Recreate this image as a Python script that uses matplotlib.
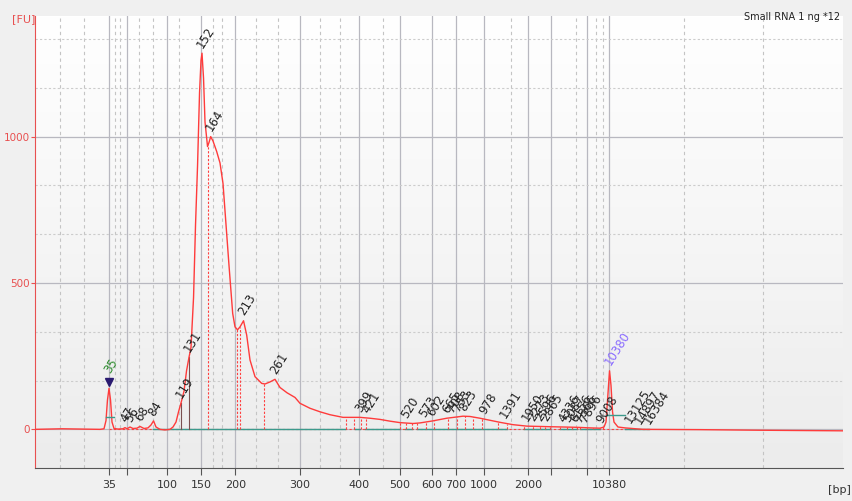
import numpy as np
import matplotlib.pyplot as plt

# migration time axis (s); ladder peaks give the bp tick labels
ladder_bp = [35, 50, 100, 150, 200, 300, 400, 500, 600, 700, 1000, 2000, 3000, 7000, 10380]
ladder_t = [43.0, 45.3, 50.58, 54.96, 59.42, 67.83, 75.5, 80.83, 84.99, 88.07, 91.75, 97.47, 100.42, 105.18, 108.04]
ladder_shown = [35, 100, 150, 200, 300, 400, 500, 600, 700, 1000, 2000, 10380]

# minor (dashed) time gridlines
minor_t = [36.64, 39.76, 43.75, 44.4, 46.91, 48.73, 52.11, 56.53, 57.75, 62.17, 64.98,
           70.49, 73.09, 78.63, 95.26, 103.71, 106.31, 107.18, 117.79, 127.98]

# electropherogram trace
trace_t = [33.38, 36.89, 41.83, 42.35, 42.61, 42.8, 43.0, 43.2, 43.39, 43.65, 44.17, 44.82,
           45.08, 45.34, 45.73, 46.12, 46.64, 47.03, 47.55, 48.07, 48.46, 48.79, 49.11, 49.63,
           50.28, 50.93, 51.32, 51.71, 52.04, 52.36, 52.75, 53.08, 53.4, 53.66, 53.99, 54.25,
           54.51, 54.77, 54.96, 55.09, 55.29, 55.48, 55.81, 56.0, 56.22, 56.52, 57.0, 57.43,
           57.82, 58.21, 58.6, 59.08, 59.38, 59.71, 60.03, 60.49, 60.9, 61.33, 61.98, 62.85,
           63.28, 63.93, 64.58, 65.23, 66.14, 67.18, 67.83, 69.13, 70.43, 71.73, 73.42, 75.63,
           76.93, 78.23, 79.53, 80.83, 82.52, 83.43, 85.12, 86.9, 89.02, 89.93, 91.23, 92.53,
           93.83, 95.52, 97.34, 100.33, 103.84, 105.53, 106.83, 107.35, 107.61, 107.81, 108.07,
           108.26, 108.46, 108.65, 109.17, 110.08, 112.42, 119.83, 127.63, 138.42]
trace_fu = [0, 2, 0, 2, 30, 100, 140, 100, 25, 3, 1, 2,
            6, 2, 8, 3, 4, 10, 3, 5, 15, 29, 8, 0,
            -2, 0, 8, 25, 60, 90, 130, 200, 246, 280, 450, 700,
            900, 1150, 1260, 1285, 1200, 1050, 966, 980, 1000, 985, 949, 910,
            840, 700, 560, 396, 350, 340, 350, 371, 322, 237, 180, 157,
            155, 162, 171, 143, 125, 109, 89, 72, 60, 50, 41, 41,
            38, 34, 28, 23, 20, 22, 29, 38, 45, 44, 38, 31,
            24, 16, 11, 9, 7, 5, 4, 8, 25, 100, 200,
            150, 60, 25, 8, 5, 0, -1, -3, -5]

# called peaks
peak_lbl = ['35', '47', '56', '68', '84', '119', '131', '152', '164', '213', '261',
            '399', '421', '520', '573', '602', '665', '708', '753', '823', '978', '1391',
            '1950', '2273', '2596', '2865', '4336', '5087', '6156', '7366', '7896', '9008',
            '10380', '13125', '14897', '16384']
peak_t = [43.0, 45.08, 45.73, 47.03, 48.79, 52.36, 53.4, 55.09, 56.22, 60.49, 64.58,
          75.63, 76.54, 81.61, 83.95, 84.99, 86.94, 87.59, 88.37, 89.15, 91.75, 94.48,
          97.34, 98.12, 99.03, 99.81, 102.02, 102.67, 103.58, 104.23, 104.88, 106.96,
          108.07, 110.73, 112.03, 113.2]

# peak boundaries (dashed red) and integration baseline segments
bound_t = [55.9, 59.67, 60.03, 63.19, 73.77, 74.85, 75.72, 76.37, 80.83, 81.57, 82.35, 83.08,
           84.17, 85.29, 87.11, 88.2, 89.28, 90.36, 91.45, 93.61, 94.7, 96.95, 98.12, 99.03,
           99.68, 100.33, 101.63, 102.5, 103.15, 103.8, 104.23, 105.1, 105.92, 106.83, 107.26]
base_seg = [(48.7, 73.7), (75.0, 75.6), (76.3, 80.8), (81.5, 82.4), (83.0, 94.7),
            (97.0, 100.3), (101.6, 103.8), (104.2, 106.8), (110.1, 113.2)]

fig = plt.figure(figsize=(8.53, 5.01), dpi=100)
fig.patch.set_facecolor('#f0f0f0')
ax = fig.add_axes([35 / 853, 1 - 468 / 501, 808 / 853, 452 / 501])
ax.set_xlim(33.38, 138.42)
ax.set_ylim(-132, 1412)

# white-to-grey background of the plot area
grad = np.linspace(0, 1, 256).reshape(-1, 1)
ax.imshow(grad, extent=[0, 1, 0, 1], transform=ax.transAxes, aspect='auto',
          cmap=plt.matplotlib.colors.LinearSegmentedColormap.from_list('bg', ['#ffffff', '#ececec']),
          origin='upper', zorder=0)

for t in minor_t:
    ax.axvline(t, color='#c4c4c4', lw=0.8, ls=(0, (3, 3)), zorder=1)
for t in ladder_t:
    ax.axvline(t, color='#b8b8c0', lw=0.9, zorder=1)
for y in [0, 500, 1000]:
    ax.axhline(y, color='#b8b8c0', lw=0.9, zorder=1)
for y in [-166.7, 166.7, 333.3, 666.7, 833.3, 1166.7, 1333.3]:
    ax.axhline(y, color='#cccccc', lw=0.8, ls=(0, (2, 2)), zorder=1)

ax.plot([43.0, 113.2], [0, 0], color='#ff4040', lw=0.8, ls=(0, (2, 2)), zorder=2)
for a, b in base_seg:
    ax.plot([a, b], [1, 1], color='#3c9a8c', lw=1.0, zorder=3)

for t in bound_t:
    top = np.interp(t, trace_t, trace_fu)
    ax.plot([t, t], [0, top], color='#ff4040', lw=0.8, ls=(0, (2, 1.5)), zorder=3)
for t in [52.36, 53.4]:
    top = np.interp(t, trace_t, trace_fu)
    ax.plot([t, t], [0, top], color='#7a5050', lw=0.8, zorder=3)

ax.plot(trace_t, trace_fu, color='#ff3b3b', lw=1.0, zorder=4)

# marker integration bars
ax.plot([42.6, 43.6], [41, 41], color='#3c9a8c', lw=1.0, zorder=5)
ax.plot([107.6, 110.1], [49, 49], color='#3c9a8c', lw=1.0, zorder=5)
ax.plot([43.0], [162], marker='v', color='#2a1a70', ms=6, zorder=6)

for lbl, t in zip(peak_lbl, peak_t):
    top = np.interp(t, trace_t, trace_fu)
    col = '#222222'
    if lbl == '35':
        col = '#2e8b2e'
        top = 175
    elif lbl == '10380':
        col = '#8a6cff'
    ax.annotate(lbl, (t, top), xytext=(2.5, 2), textcoords='offset points',
                rotation=58, rotation_mode='anchor', ha='left', va='bottom',
                fontsize=8.5, color=col, family='DejaVu Sans', zorder=7)

for s in ['top', 'right']:
    ax.spines[s].set_visible(False)
ax.spines['left'].set_color('#e85050')
ax.spines['bottom'].set_color('#555555')
ax.set_yticks([0, 500, 1000])
ax.tick_params(axis='y', colors='#e85050', labelsize=7.5, length=3, pad=1)
ax.set_xticks(ladder_t)
ax.set_xticklabels([str(b) if b in ladder_shown else '' for b in ladder_bp])
ax.tick_params(axis='x', colors='#555555', labelcolor='#333333', labelsize=8, length=5)

fig.text(12 / 853, 1 - 22 / 501, '[FU]', color='#e85050', fontsize=8)
fig.text(851 / 853, 1 - 493 / 501, '[bp]', color='#333333', fontsize=8, ha='right')
fig.text(840 / 853, 1 - 20 / 501, 'Small RNA 1 ng *12', color='#222222', fontsize=7, ha='right')

fig.savefig('out.png', dpi=100, facecolor=fig.get_facecolor())
